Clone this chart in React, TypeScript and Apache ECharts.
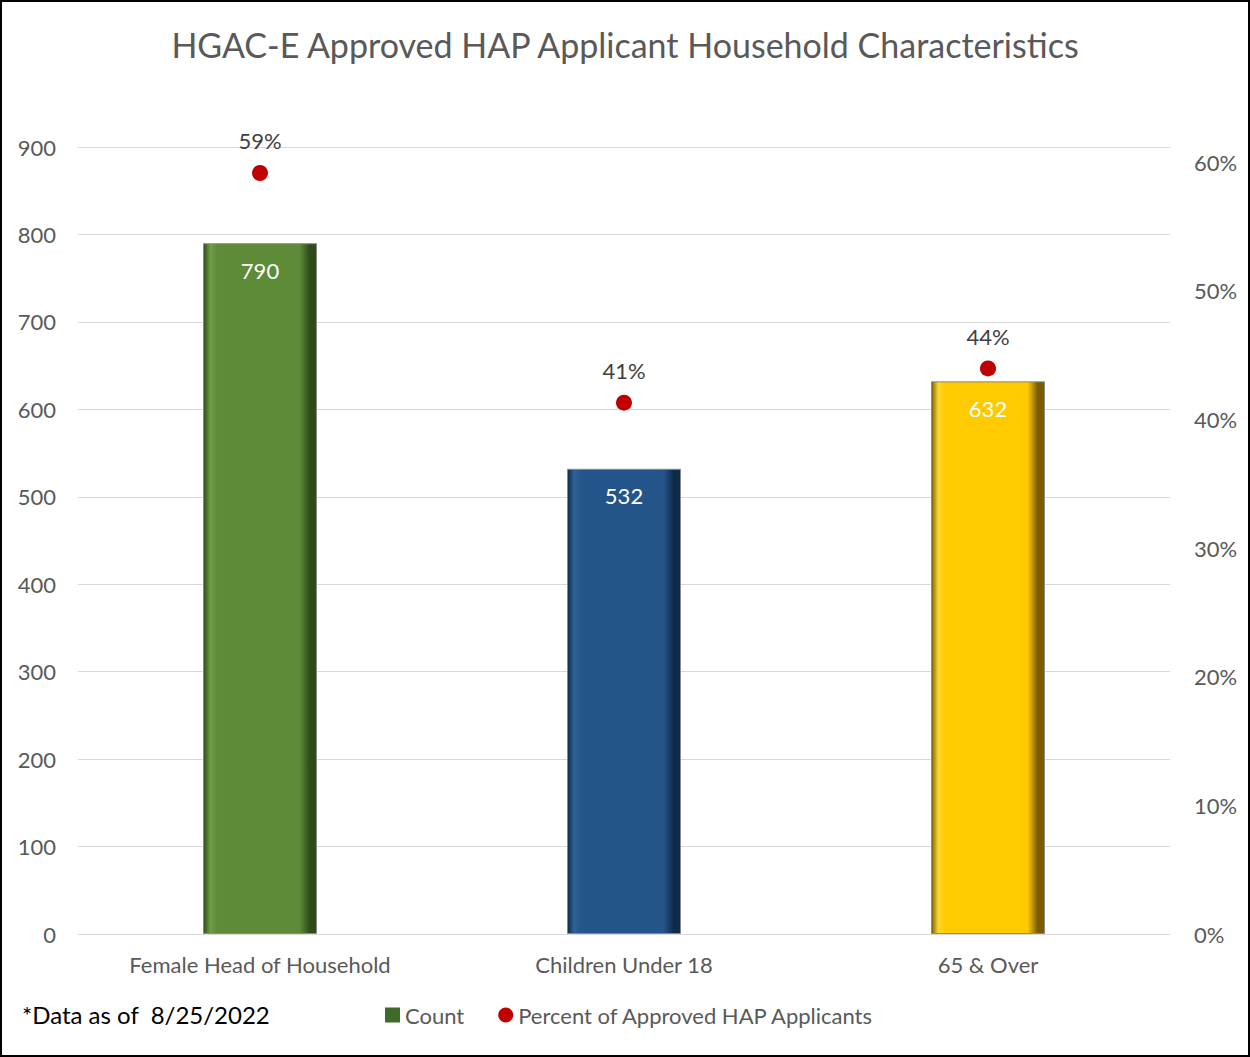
import React, { useEffect, useRef } from "react";
import * as echarts from "echarts";

const categories = ["Female Head of Household", "Children Under 18", "65 & Over"];
const countValues = [790, 532, 632];
const percentValues = [0.5915, 0.413, 0.4396];
const countTicks = [0, 100, 200, 300, 400, 500, 600, 700, 800, 900];
const percentTicks = [0, 0.1, 0.2, 0.3, 0.4, 0.5, 0.6];
const titleText = "HGAC-E Approved HAP Applicant Household Characteristics";
const noteText = "*Data as of  8/25/2022";

const FONT = "Lato, 'Open Sans', sans-serif";

function barGrad(light: string, base: string, dark: string) {
  return new echarts.graphic.LinearGradient(0, 0, 1, 0, [
    { offset: 0, color: dark },
    { offset: 0.06, color: light },
    { offset: 0.12, color: base },
    { offset: 0.85, color: base },
    { offset: 0.94, color: dark },
    { offset: 1, color: dark },
  ]);
}

const barColors = [
  barGrad("#6f9e48", "#5d8b38", "#2f4b1c"),
  barGrad("#2f6298", "#23548a", "#0f2b4a"),
  barGrad("#ffd633", "#ffcb00", "#7a5d00"),
];

export default function App() {
  const ref = useRef<HTMLDivElement>(null);
  useEffect(() => {
    if (!ref.current) return;
    const chart = echarts.init(ref.current, null, { renderer: "svg" });
    const pctMax = 0.6117;
    chart.setOption({
      animation: false,
      backgroundColor: "#ffffff",
      title: {
        text: titleText,
        left: "center",
        top: 22,
        textStyle: { fontFamily: FONT, fontSize: 34, fontWeight: "normal", color: "#595959" },
      },
      graphic: [
        {
          type: "text",
          left: 22,
          top: 1002,
          style: { text: noteText, fontFamily: FONT, fontSize: 24, fill: "#000000" },
        },
      ],
      legend: {
        left: 380,
        top: 999,
        itemGap: 34,
        itemWidth: 15,
        itemHeight: 15,
        textStyle: { fontFamily: FONT, fontSize: 22, color: "#595959" },
        data: [
          { name: "Count", icon: "rect", itemStyle: { color: "#3f6a2a" } },
          { name: "Percent of Approved HAP Applicants", icon: "circle" },
        ],
      },
      grid: { left: 78, right: 80, top: 147, bottom: 123, containLabel: false },
      xAxis: {
        type: "category",
        data: categories,
        axisTick: { show: false },
        axisLine: { show: true, lineStyle: { color: "#d9d9d9", width: 1 } },
        axisLabel: { fontFamily: FONT, fontSize: 22, color: "#595959", margin: 19 },
      },
      yAxis: [
        {
          type: "value",
          min: 0,
          max: countTicks[countTicks.length - 1],
          interval: 100,
          axisLine: { show: false },
          axisTick: { show: false },
          splitLine: { lineStyle: { color: "#d9d9d9", width: 1 } },
          axisLabel: { fontFamily: FONT, fontSize: 22, color: "#595959", margin: 22 },
        },
        {
          type: "value",
          min: 0,
          max: pctMax,
          interval: 0.1,
          axisLine: { show: false },
          axisTick: { show: false },
          splitLine: { show: false },
          axisLabel: {
            fontFamily: FONT,
            fontSize: 22,
            color: "#595959",
            margin: 24,
            showMaxLabel: false,
            formatter: (v: number) => {
              const m = percentTicks.find((t) => Math.abs(t - v) < 1e-6);
              return m === undefined ? "" : Math.round(m * 100) + "%";
            },
          },
        },
      ],
      series: [
        {
          name: "Count",
          type: "bar",
          yAxisIndex: 0,
          barWidth: 114,
          data: countValues.map((v, i) => ({
            value: v,
            itemStyle: { color: barColors[i], borderColor: "#8a8a8a", borderWidth: 1 },
          })),
          label: {
            show: true,
            position: "insideTop",
            distance: 16,
            fontFamily: FONT,
            fontSize: 22,
            color: "#ffffff",
          },
        },
        {
          name: "Percent of Approved HAP Applicants",
          type: "scatter",
          yAxisIndex: 1,
          symbol: "circle",
          symbolSize: 16,
          itemStyle: { color: "#c00000", opacity: 1 },
          data: percentValues,
          label: {
            show: true,
            position: "top",
            distance: 13,
            fontFamily: FONT,
            fontSize: 22,
            color: "#404040",
            formatter: (p: any) => Math.round(p.value * 100) + "%",
          },
        },
      ],
    });
    return () => chart.dispose();
  }, []);
  return (
    <div style={{ position: "absolute", left: 0, top: 0, width: 1250, height: 1057, background: "#fff" }}>
      <div ref={ref} style={{ position: "absolute", left: 0, top: 0, width: 1250, height: 1057 }} />
      <div
        style={{
          position: "absolute",
          left: 0,
          top: 0,
          width: 1250,
          height: 1057,
          border: "2px solid #000",
          boxSizing: "border-box",
          pointerEvents: "none",
        }}
      />
    </div>
  );
}
